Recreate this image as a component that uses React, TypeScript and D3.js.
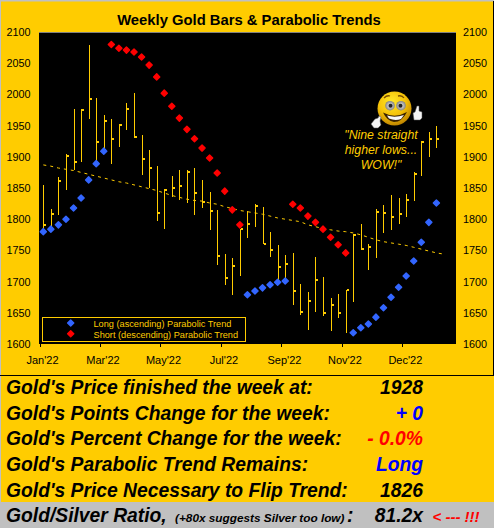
import React from "react";
import * as d3 from "d3";

const weekHigh = [1855,1816,1868,1904,1977,1977,2079,1994,1967,1961,1953,1986,2002,1935,1911,1885,1848,1869,1879,1879,1882,1863,1844,1815,1744,1738,1784,1813,1824,1819,1780,1759,1742,1746,1696,1684,1739,1707,1674,1680,1686,1776,1792,1761,1817,1823,1838,1834,1841,1875,1925,1940,1949];
const weekLow = [1783,1785,1807,1846,1879,1892,1961,1895,1908,1888,1916,1943,1930,1871,1850,1797,1784,1836,1831,1826,1807,1818,1783,1727,1695,1679,1709,1770,1788,1760,1740,1700,1697,1663,1647,1622,1652,1645,1621,1641,1617,1667,1750,1719,1738,1778,1783,1792,1804,1829,1870,1899,1914];
const weekClose = [1791,1809,1862,1902,1891,1975,1993,1923,1958,1929,1951,1977,1932,1897,1882,1810,1846,1850,1854,1876,1842,1828,1813,1741,1706,1725,1784,1793,1821,1761,1751,1724,1729,1685,1651,1669,1703,1650,1663,1649,1686,1775,1752,1756,1812,1810,1804,1808,1831,1872,1924,1928,1928];
const trendLine = [1887,1885,1882,1880,1878,1875,1872,1869,1866,1863,1860,1858,1855,1852,1849,1846,1842,1838,1835,1832,1830,1829,1826,1824,1820,1817,1814,1812,1810,1808,1805,1802,1800,1798,1796,1791,1788,1785,1783,1781,1780,1778,1775,1771,1767,1764,1762,1760,1758,1755,1752,1749,1746,1744];
const longIdx = [0,1,2,3,4,5,6,7,8,27,28,29,30,31,32,41,42,43,44,45,46,47,48,49,50,51,52];
const longValues = [1780,1784,1791,1800,1818,1834,1863,1889,1909,1679,1685,1690,1695,1699,1701,1618,1626,1632,1643,1658,1675,1691,1709,1733,1763,1795,1826];
const shortIdx = [9,10,11,12,13,14,15,16,17,18,19,20,21,22,23,24,25,26,33,34,35,36,37,38,39,40];
const shortValues = [2080,2074,2071,2068,2060,2047,2028,2002,1981,1962,1944,1929,1914,1898,1874,1845,1815,1791,1824,1818,1805,1795,1784,1771,1759,1746];
const yTicks = [1600,1650,1700,1750,1800,1850,1900,1950,2000,2050,2100];
const monthLabels = ["Jan'22","Mar'22","May'22","Jul'22","Sep'22","Nov'22","Dec'22"];
const monthTickIdx = [-0.5,7.5,15.5,23.5,31.5,39.5,47.5];
const statLabels = ["Gold's Price finished the week at:","Gold's Points Change for the week:","Gold's Percent Change for the week:","Gold's Parabolic Trend Remains:","Gold's Price Necessary to Flip Trend:"];
const statValues = ["1928","+ 0","- 0.0%","Long","1826"];
const statColors = ["#000","#0000FF","#FF0000","#0000FF","#000"];
const statBaselines = [394,419.5,445,471,497];
const quote = ["\"Nine straight","higher lows...","WOW!\""];

const GOLD = "#FFCC00";
const FONT = "'Liberation Sans', Arial, sans-serif";
const x = d3.scaleLinear().domain([0, 52]).range([43.3, 436.4]);
const y = d3.scaleLinear().domain([1600, 2100]).range([344, 32]);
const trendPath = d3.line<number>().x((_, i) => x(i)).y((d) => y(d))(trendLine) ?? "";
const dot = d3.symbol().type(d3.symbolDiamond2).size(24)() ?? "";

function Dot({ cx, cy, fill }: { cx: number; cy: number; fill: string }) {
  return <path d={dot} transform={`translate(${cx},${cy})`} fill={fill} stroke={fill} strokeWidth={1.4} strokeLinejoin="round" />;
}

function Smiley() {
  return (
    <g>
      <defs>
        <radialGradient id="face" cx="0.42" cy="0.3" r="0.8">
          <stop offset="0" stopColor="#FFE92A" />
          <stop offset="0.5" stopColor="#F5C208" />
          <stop offset="0.85" stopColor="#C48A00" />
          <stop offset="1" stopColor="#8A5C00" />
        </radialGradient>
        <radialGradient id="eye" cx="0.5" cy="0.5" r="0.55">
          <stop offset="0" stopColor="#F4F4F4" />
          <stop offset="1" stopColor="#777" />
        </radialGradient>
      </defs>
      <circle cx={394.5} cy={108.5} r={17} fill="url(#face)" />
      <path d="M384 98q3 -3 6 -2M398 96q4 -1 6 2" stroke="#7A4E00" strokeWidth={1.3} fill="none" />
      <circle cx={390} cy={105.7} r={4.8} fill="url(#eye)" />
      <circle cx={401} cy={105.7} r={4.8} fill="url(#eye)" />
      <circle cx={390.5} cy={105.7} r={2} fill="#222" />
      <circle cx={400.5} cy={105.7} r={2} fill="#222" />
      <path d="M383 112.5Q395 119 407 112Q402 122 394 122Q387 121 383 112.5Z" fill="#3A2200" />
      <path d="M387 115.5Q395 118 404 115L401 119Q395 121 389 118.5Z" fill="#F8F8F8" />
      <path d="M371 124l4 -5l3 -1l1 -2l2 1l-1 4l1 4l-3 3l-4 0z" fill="#F4F4F4" stroke="#555" strokeWidth={0.5} />
      <path d="M413 113l2 -1l2 -6l2 0l0 5l3 1l0 6l-2 2l-6 0z" fill="#F4F4F4" stroke="#555" strokeWidth={0.5} />
    </g>
  );
}

export default function App() {
  return (
    <svg width={494} height={528} viewBox="0 0 494 528" style={{ position: "absolute", left: 0, top: 0, display: "block" }} fontFamily={FONT}>
      <rect x={0} y={0} width={494} height={528} fill={GOLD} />
      <rect x={0} y={0} width={494} height={1.5} fill="#C0C0C0" />
      <rect x={0} y={0} width={1} height={528} fill="#C0C0C0" />
      <rect x={493} y={1} width={1} height={374} fill="#000" />
      <rect x={0} y={375} width={494} height={1} fill="#000" />
      <rect x={1} y={502} width={493} height={26} fill="#C0C0C0" />

      <text x={249} y={25} textAnchor="middle" fontSize={14.8} fontWeight="bold" fill="#000">Weekly Gold Bars &amp; Parabolic Trends</text>

      <rect x={39} y={32} width={417} height={312} fill="#000" />
      <rect x={39} y={32} width={417} height={1} fill="#808080" />

      {yTicks.map((t) => (
        <g key={t} fontSize={10.8} fill="#000">
          <text x={30.5} y={y(t) + 4} textAnchor="end">{t}</text>
          <text x={463} y={y(t) + 4}>{t}</text>
        </g>
      ))}
      {monthLabels.map((m, i) => (
        <g key={m}>
          <rect x={Math.round(x(monthTickIdx[i]))} y={344} width={1} height={3} fill="#000" />
          <text x={x(monthTickIdx[i]) + 3} y={364} textAnchor="middle" fontSize={11} fill="#000">{m}</text>
        </g>
      ))}

      <path d={trendPath} fill="none" stroke={GOLD} strokeWidth={1} strokeDasharray="3 4" />

      <g shapeRendering="crispEdges" fill={GOLD}>
        {weekHigh.map((h, i) => (
          <g key={i}>
            <rect x={Math.round(x(i))} y={Math.round(y(h))} width={1} height={Math.round(y(weekLow[i])) - Math.round(y(h))} />
            <rect x={Math.round(x(i)) + 1} y={Math.round(y(weekClose[i])) - 1} width={2} height={2} />
          </g>
        ))}
      </g>

      {longIdx.map((d, i) => (
        <Dot key={d} cx={x(d)} cy={y(longValues[i])} fill="#3366FF" />
      ))}
      {shortIdx.map((d, i) => (
        <Dot key={d} cx={x(d)} cy={y(shortValues[i])} fill="#FF0000" />
      ))}

      <rect x={42.5} y={317.5} width={203} height={24} fill="#000" stroke={GOLD} strokeWidth={1} />
      <Dot cx={70.7} cy={323} fill="#3366FF" />
      <Dot cx={70.7} cy={333.7} fill="#FF0000" />
      <text x={93.5} y={326.5} fontSize={9.2} fill={GOLD}>Long (ascending) Parabolic Trend</text>
      <text x={93.5} y={337.5} fontSize={9.2} fill={GOLD}>Short (descending) Parabolic Trend</text>

      <Smiley />
      {quote.map((q, i) => (
        <text key={q} x={381} y={139 + i * 15} textAnchor="middle" fontSize={12.3} fontStyle="italic" fill={GOLD}>{q}</text>
      ))}

      <g fontSize={19.3} fontWeight="bold" fontStyle="italic">
        {statLabels.map((s, i) => (
          <g key={s}>
            <text x={6} y={statBaselines[i]} fill="#000">{s}</text>
            <text x={423} y={statBaselines[i]} textAnchor="end" fill={statColors[i]}>{statValues[i]}</text>
          </g>
        ))}
        <text x={6} y={522} fill="#000">Gold/Silver Ratio,</text>
        <text x={175} y={522} fontSize={11.8} fill="#000">(+80x suggests Silver too low)</text>
        <text x={347} y={522} fill="#000">:</text>
        <text x={423} y={522} textAnchor="end" fill="#000">81.2x</text>
        <text x={432.5} y={522} fontSize={15} fill="#FF0000">&lt; --- !!!</text>
      </g>
    </svg>
  );
}
